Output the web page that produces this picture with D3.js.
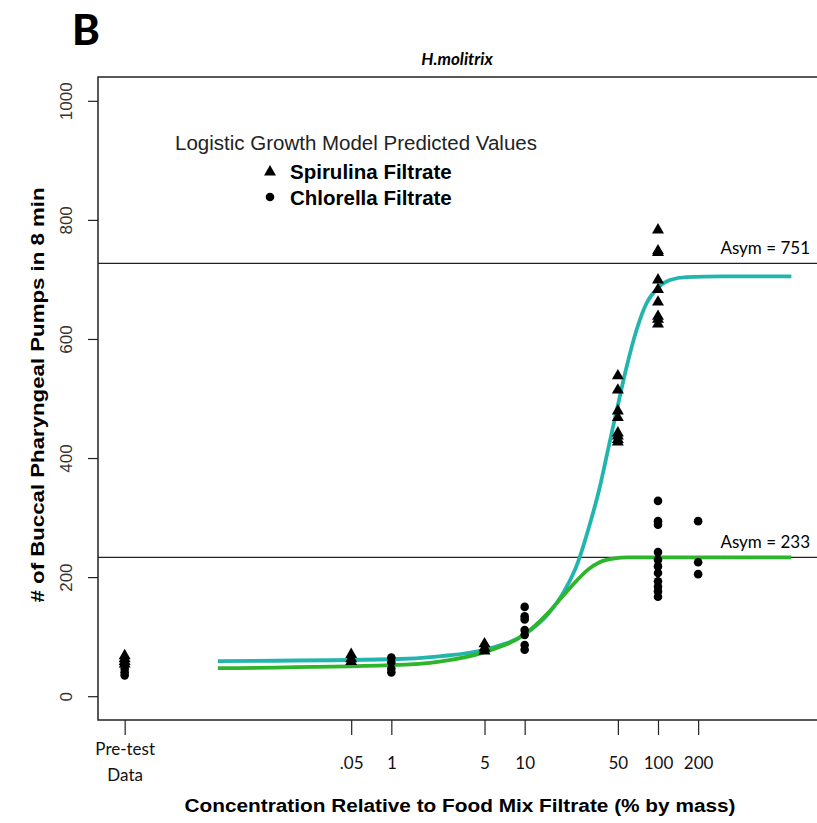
<!DOCTYPE html>
<html>
<head>
<meta charset="utf-8">
<script src="https://cdn.jsdelivr.net/npm/d3@7"></script>
<style>
  body { margin: 0; background: #fff; }
  svg { display: block; }
</style>
</head>
<body>
<div id="chart"></div>
<script>
// x ticks sit on a log axis; "Pre-test" is parked at 0.01, ".05" at 0.5
const tickValues = [0.01, 0.5, 1, 5, 10, 50, 100, 200];
const tickLabels = [["Pre-test", "Data"], [".05"], ["1"], ["5"], ["10"], ["50"], ["100"], ["200"]];
const yTicks = [0, 200, 400, 600, 800, 1000];

// observed pumps (spirulina = triangles, chlorella = circles)
const spirulinaPts = [
  [0.01, 68], [0.01, 63], [0.01, 58], [0.01, 54],
  [0.5, 70], [0.5, 63], [0.5, 58],
  [5, 88], [5, 81], [5, 76],
  [50, 538], [50, 514], [50, 479], [50, 468], [50, 442], [50, 437], [50, 431], [50, 427],
  [100, 783], [100, 748], [100, 745], [100, 699], [100, 683], [100, 662], [100, 638], [100, 633], [100, 625]
];
const chlorellaPts = [
  [0.01, 52], [0.01, 46], [0.01, 40], [0.01, 35],
  [1, 65], [1, 57], [1, 46], [1, 40],
  [10, 150], [10, 134], [10, 129], [10, 111], [10, 103], [10, 86], [10, 78],
  [100, 328], [100, 294], [100, 288], [100, 242], [100, 229], [100, 218], [100, 207], [100, 193], [100, 184], [100, 176], [100, 167],
  [200, 294], [200, 225], [200, 205]
];

// predicted curves
const spirulinaFit = [
  [0.05, 59], [1, 62], [2.3, 67], [5, 78], [10, 104], [15, 138], [20, 178], [25, 224],
  [30, 280], [36.5, 350], [42, 412], [48.7, 477], [58, 552], [69, 615], [82, 660],
  [100, 686], [123, 699], [164, 704], [300, 705], [1000, 705]
];
const chlorellaFit = [
  [0.05, 47], [1, 52], [2.3, 58], [5, 74], [10, 104], [15, 140], [20, 172], [25, 196],
  [30, 213], [36.5, 225], [46, 231], [60, 233], [1000, 233]
];

const asymLines = [727, 233];
const asymLabels = ["Asym = 751", "Asym = 233"];

const width = 817, height = 823;
const margin = { left: 98, right: 818, top: 77, bottom: 720 };

const svg = d3.select("#chart").append("svg")
  .attr("width", width)
  .attr("height", height);

const x = d3.scaleLog().domain([Math.pow(10, -2.2), Math.pow(10, 3.2)]).range([margin.left, margin.right]);
const y = d3.scaleLinear().domain([-40, 1040]).range([margin.bottom, margin.top]);

// panel letter and title
svg.append("text")
  .attr("x", 72).attr("y", 45)
  .style("font-family", "Lato, sans-serif")
  .style("font-weight", "900")
  .style("font-size", "42px")
  .text("B");

svg.append("text")
  .attr("x", 457).attr("y", 65)
  .attr("text-anchor", "middle")
  .style("font-family", "Lato, sans-serif")
  .style("font-weight", "bold")
  .style("font-style", "italic")
  .style("font-size", "17px")
  .text("H.molitrix");

// plot box
svg.append("rect")
  .attr("x", margin.left).attr("y", margin.top)
  .attr("width", margin.right - margin.left + 10).attr("height", margin.bottom - margin.top)
  .style("fill", "none")
  .style("stroke", "#222")
  .style("stroke-width", 1.5);

// y axis
const yAxis = svg.append("g")
  .attr("transform", `translate(${margin.left},0)`)
  .call(d3.axisLeft(y).tickValues(yTicks).tickSize(10).tickFormat(d3.format("d")));
yAxis.select(".domain").remove();
yAxis.selectAll(".tick line").style("stroke", "#222").style("stroke-width", 1.2);
yAxis.selectAll(".tick text")
  .attr("x", 0).attr("y", 0).attr("dy", null)
  .attr("transform", "translate(-30,0) rotate(-90)")
  .attr("text-anchor", "middle")
  .attr("dominant-baseline", "middle")
  .style("font-family", "'Liberation Sans', Arial, sans-serif")
  .style("font-size", "17px")
  .style("fill", "#333");

// x axis
const xAxis = svg.append("g")
  .attr("transform", `translate(0,${margin.bottom})`)
  .call(d3.axisBottom(x).tickValues(tickValues).tickSize(15).tickFormat(""));
xAxis.select(".domain").remove();
xAxis.selectAll(".tick line").style("stroke", "#222").style("stroke-width", 1.2);
xAxis.selectAll(".tick").each(function(d, i) {
  const lines = tickLabels[i];
  const t = d3.select(this).append("text")
    .attr("text-anchor", "middle")
    .style("font-family", "Lato, sans-serif")
    .style("font-size", "17px")
    .style("fill", "#111");
  if (lines.length > 1) {
    lines.forEach((s, k) => t.append("tspan").attr("x", 0).attr("y", 35 + k * 26).text(s));
  } else {
    t.attr("y", 49).text(lines[0]);
  }
});

// axis titles
svg.append("text")
  .attr("x", 460).attr("y", 812)
  .attr("text-anchor", "middle")
  .style("font-family", "'Liberation Sans', Arial, sans-serif")
  .style("font-weight", "bold")
  .style("font-size", "18px")
  .attr("textLength", 551)
  .attr("lengthAdjust", "spacingAndGlyphs")
  .text("Concentration Relative to Food Mix Filtrate (% by mass)");

svg.append("text")
  .attr("transform", "translate(44,395) rotate(-90)")
  .attr("text-anchor", "middle")
  .style("font-family", "'Liberation Sans', Arial, sans-serif")
  .style("font-weight", "bold")
  .style("font-size", "19px")
  .attr("textLength", 415)
  .attr("lengthAdjust", "spacingAndGlyphs")
  .text("# of Buccal Pharyngeal Pumps in 8 min");

// asymptote lines
const plot = svg.append("g");
plot.selectAll(".asym")
  .data(asymLines)
  .enter()
  .append("line")
  .attr("class", "asym")
  .attr("x1", margin.left).attr("x2", margin.right)
  .attr("y1", d => y(d)).attr("y2", d => y(d))
  .style("stroke", "#222")
  .style("stroke-width", 1.2);

plot.selectAll(".asym-label")
  .data(asymLines)
  .enter()
  .append("text")
  .attr("class", "asym-label")
  .attr("x", 810)
  .attr("y", d => y(d) - 9)
  .attr("text-anchor", "end")
  .style("font-family", "Lato, sans-serif")
  .style("font-size", "17px")
  .text((d, i) => asymLabels[i]);

// fitted curves
const line = d3.line()
  .x(d => x(d[0]))
  .y(d => y(d[1]))
  .curve(d3.curveMonotoneX);

plot.append("path")
  .datum(spirulinaFit)
  .attr("d", line)
  .style("fill", "none")
  .style("stroke", "#22b5ad")
  .style("stroke-width", 3.8);

plot.append("path")
  .datum(chlorellaFit)
  .attr("d", line)
  .style("fill", "none")
  .style("stroke", "#2db52b")
  .style("stroke-width", 3.8);

// points
const tri = d3.symbol().type(d3.symbolTriangle).size(62);
plot.selectAll(".tri")
  .data(spirulinaPts)
  .enter()
  .append("path")
  .attr("class", "tri")
  .attr("d", tri)
  .attr("transform", d => `translate(${x(d[0])},${y(d[1])})`)
  .style("fill", "#000");

plot.selectAll(".dot")
  .data(chlorellaPts)
  .enter()
  .append("circle")
  .attr("class", "dot")
  .attr("cx", d => x(d[0]))
  .attr("cy", d => y(d[1]))
  .attr("r", 4.3)
  .style("fill", "#000");

// legend
const legend = svg.append("g");
legend.append("text")
  .attr("x", 175).attr("y", 150)
  .style("font-family", "'Liberation Sans', Arial, sans-serif")
  .style("font-size", "20.5px")
  .style("fill", "#222")
  .text("Logistic Growth Model Predicted Values");

legend.append("path")
  .attr("d", d3.symbol().type(d3.symbolTriangle).size(62))
  .attr("transform", "translate(270,172)");
legend.append("circle")
  .attr("cx", 270).attr("cy", 197).attr("r", 4.3);

legend.append("text")
  .attr("x", 290).attr("y", 179)
  .style("font-family", "'Liberation Sans', Arial, sans-serif")
  .style("font-weight", "bold")
  .style("font-size", "20.5px")
  .text("Spirulina Filtrate");
legend.append("text")
  .attr("x", 290).attr("y", 205)
  .style("font-family", "'Liberation Sans', Arial, sans-serif")
  .style("font-weight", "bold")
  .style("font-size", "20.5px")
  .text("Chlorella Filtrate");
</script>
</body>
</html>
